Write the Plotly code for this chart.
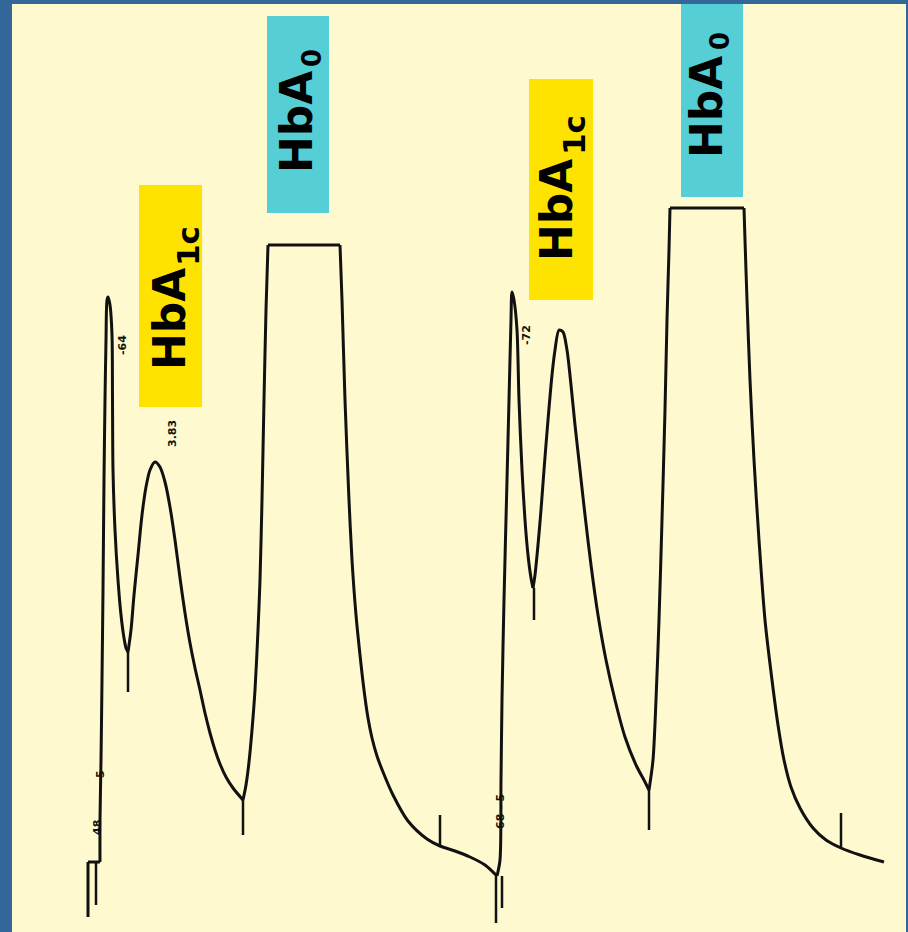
import plotly.graph_objects as go

# Chromatogram (x = position along chart, y = chart-paper depth; smaller = higher signal)
left_x = [88, 88, 100, 100, 101, 102, 103, 104, 105, 106, 107, 108, 110, 112, 112.5, 113, 115, 118, 121, 124, 126, 128,
          131, 134, 138, 142, 146, 150, 155, 160, 165, 170, 175, 180, 185, 190, 195, 200, 205, 210, 215, 220, 226, 233, 243,
          246, 249, 252, 255, 258, 260, 262, 264, 266, 268, 340, 342, 345, 349, 352, 356, 360, 364, 368, 372, 377, 383,
          393, 408, 427, 440, 455, 470, 485, 497]
left_y = [917, 862, 862, 820, 760, 680, 590, 480, 400, 340, 300, 297, 305, 335, 400, 470, 530, 580, 615, 638, 648, 652,
          630, 595, 555, 515, 487, 470, 462, 467, 482, 507, 540, 578, 613, 643, 668, 690, 713, 733, 750, 764, 777, 788, 800,
          785, 762, 730, 690, 630, 580, 500, 400, 310, 245, 245, 300, 400, 500, 560, 615, 655, 690, 718, 738, 756, 772,
          795, 821, 839, 846, 851, 857, 865, 876]
left_corners = [(88, 862), (100, 862), (128, 652), (243, 800), (268, 245), (340, 245)]

right_x = [497, 500, 501, 502, 504, 507, 509, 511, 512, 514, 517, 519, 522, 525, 528, 531, 533,
           535, 538, 541, 544, 548, 552, 555, 559, 563, 567, 571, 575, 580, 585, 591, 598, 606, 615, 625, 636, 645, 649,
           653, 656, 659, 662, 665, 667, 669, 670, 744, 745, 747, 750, 754, 759, 765, 772, 778, 784, 791, 800, 813, 826,
           841, 860, 884]
right_y = [876, 860, 780, 700, 600, 480, 400, 320, 292, 300, 330, 400, 470, 520, 555, 578, 588,
           575, 545, 510, 470, 420, 375, 350, 330, 332, 350, 385, 425, 470, 515, 565, 615, 660, 700, 737, 765, 782, 790,
           760, 700, 620, 520, 410, 320, 250, 208, 208, 240, 300, 380, 460, 540, 620, 680, 725, 760, 787, 808, 828, 840,
           848, 855, 862]
right_corners = [(533, 588), (649, 790), (670, 208), (744, 208)]

# Injection / integration tick marks: (x, y_start, y_end)
tick_x = [96, 128, 243, 440, 496, 502, 534, 649, 841]
tick_y0 = [862, 652, 800, 815, 876, 876, 588, 790, 813]
tick_y1 = [905, 692, 835, 847, 923, 908, 620, 830, 848]

# Peak label boxes
box_x0 = [139, 267, 529, 681]
box_x1 = [202, 329, 593, 743]
box_y0 = [185, 16, 79, 4]
box_y1 = [407, 213, 300, 197]
box_col = ["#FFE300", "#55CED6", "#FFE300", "#55CED6"]

# Peak label text: main part and subscript
main_text = ["HbA", "HbA", "HbA", "HbA"]
main_x = [169, 296, 556, 706]
main_y = [319, 122, 210, 107]
sub_text = ["1c", "0", "1c", "0"]
sub_x = [188, 312, 574, 720]
sub_y = [246, 58, 135, 41]
sub_size = [31, 26, 31, 26]

# Retention-time annotations on the trace
rt_text = ["-64", "3.83", "-72", "5", "48", "68 - 5"]
rt_x = [122, 172, 526, 100, 97, 500]
rt_y = [345, 434, 335, 774, 828, 812]

BLUE = "#33679A"
PAPER = "#FEF9CE"
INK = "#111111"

fig = go.Figure()


def add_curve(xs, ys, corners):
    pts = list(zip(xs, ys))
    cut = sorted({0, len(pts) - 1} | {pts.index(c) for c in corners})
    for a, b in zip(cut[:-1], cut[1:]):
        seg = pts[a:b + 1]
        fig.add_trace(go.Scatter(
            x=[p[0] for p in seg], y=[p[1] for p in seg], mode="lines",
            line=dict(color=INK, width=3, shape="spline" if len(seg) > 2 else "linear", smoothing=0.8),
            hoverinfo="skip"))


add_curve(left_x, left_y, left_corners)
add_curve(right_x, right_y, right_corners)
for tx, a, b in zip(tick_x, tick_y0, tick_y1):
    fig.add_trace(go.Scatter(x=[tx, tx], y=[a, b], mode="lines", line=dict(color=INK, width=2.5), hoverinfo="skip"))

shapes = [dict(type="rect", xref="x", yref="y", x0=12, x1=906, y0=4, y1=932,
               fillcolor=PAPER, line=dict(width=0), layer="below")]
for x0, x1, y0, y1, c in zip(box_x0, box_x1, box_y0, box_y1, box_col):
    shapes.append(dict(type="rect", xref="x", yref="y", x0=x0, x1=x1, y0=y0, y1=y1,
                       fillcolor=c, line=dict(width=0), layer="below"))

annotations = []
for t, x, y in zip(main_text, main_x, main_y):
    annotations.append(dict(text=t, x=x, y=y, xref="x", yref="y", showarrow=False, textangle=-90,
                            font=dict(family="DejaVu Sans", size=44, color="#000000", weight="bold")))
for t, x, y, s in zip(sub_text, sub_x, sub_y, sub_size):
    annotations.append(dict(text=t, x=x, y=y, xref="x", yref="y", showarrow=False, textangle=-90,
                            font=dict(family="DejaVu Sans", size=s, color="#000000", weight="bold")))
for t, x, y in zip(rt_text, rt_x, rt_y):
    annotations.append(dict(text=t, x=x, y=y, xref="x", yref="y", showarrow=False, textangle=-90,
                            font=dict(family="DejaVu Sans", size=11, color=INK, weight="bold")))

fig.update_layout(
    width=908, height=932, margin=dict(l=0, r=0, t=0, b=0),
    paper_bgcolor=BLUE, plot_bgcolor=BLUE, showlegend=False,
    xaxis=dict(range=[0, 908], visible=False, fixedrange=True),
    yaxis=dict(range=[932, 0], visible=False, fixedrange=True),
    shapes=shapes, annotations=annotations,
)
fig.write_html("out.html")
